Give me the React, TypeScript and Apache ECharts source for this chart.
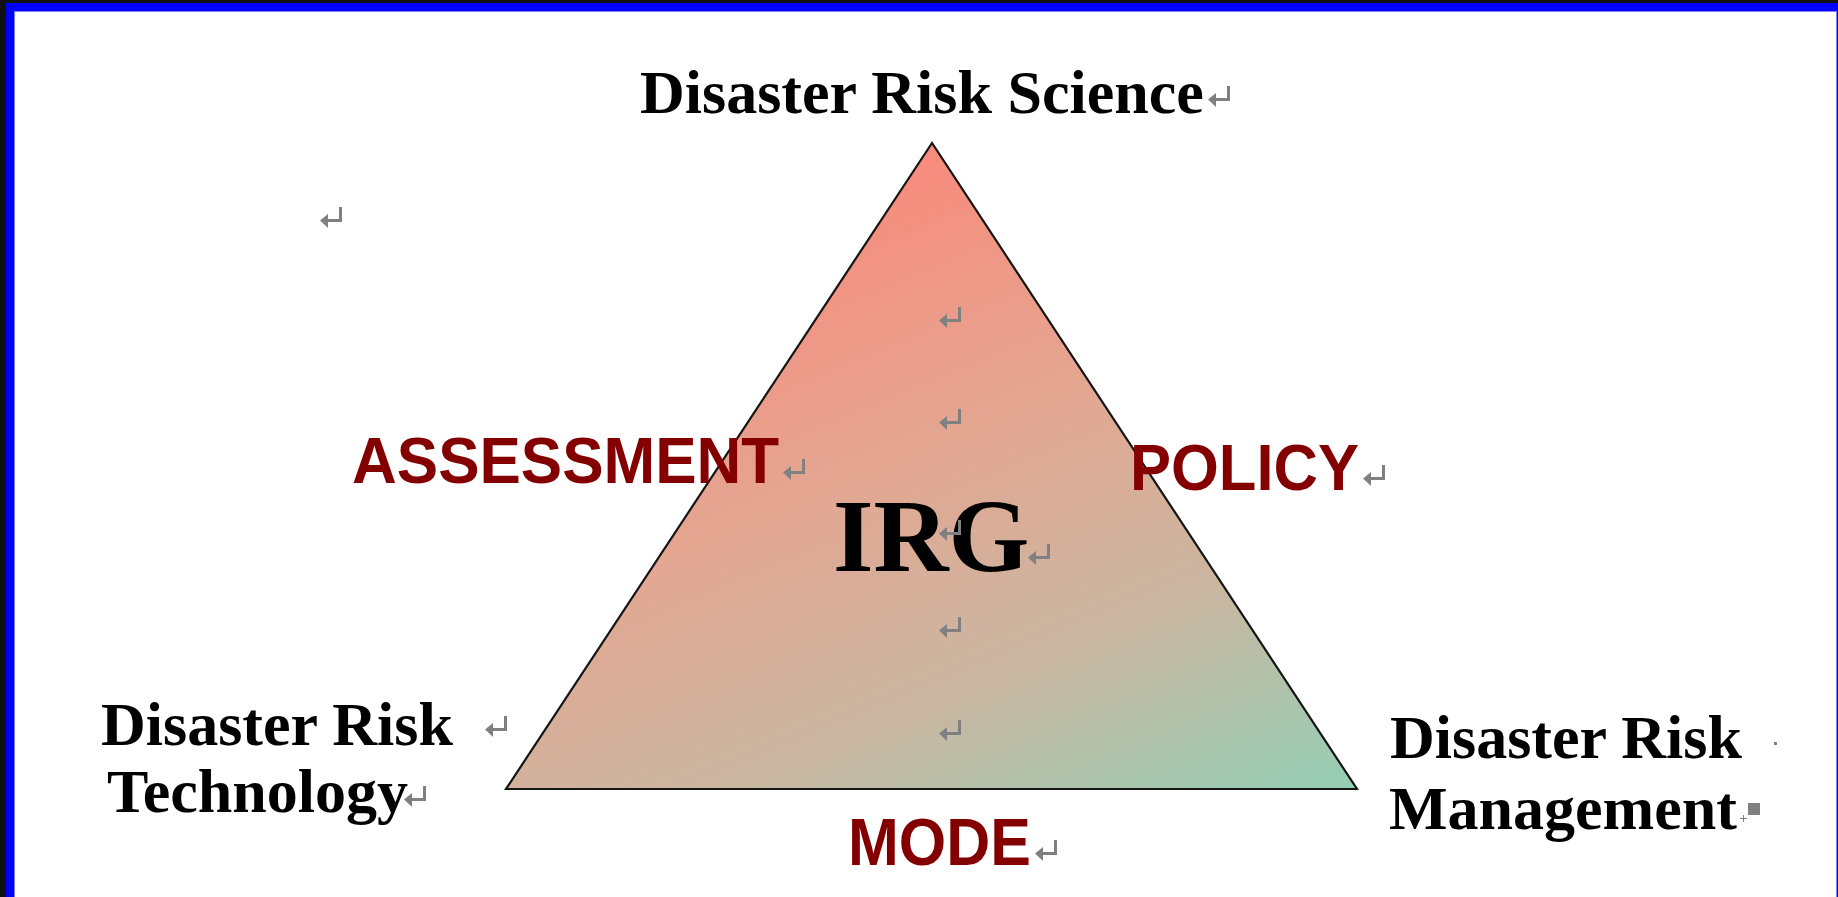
import React, { useEffect, useRef } from "react";
import * as echarts from "echarts";

const W = 1838;
const H = 897;

// Texts of the diagram
const topLabel = ["Disaster Risk Science"];
const leftLabel = ["Disaster Risk", "Technology"];
const rightLabel = ["Disaster Risk", "Management"];
const edgeLabels = ["ASSESSMENT", "POLICY", "MODE"];
const centerLabel = ["IRG"];

const SERIF = "'Liberation Serif', 'Times New Roman', serif";
const SANS = "'Liberation Sans', Arial, sans-serif";
const RED = "#840000";
const GRAY = "#808080";

function returnMark(x: number, y: number): any {
  return {
    type: "group",
    x,
    y,
    silent: true,
    children: [
      { type: "rect", shape: { x: 19, y: 0, width: 3, height: 15 }, style: { fill: GRAY } },
      { type: "rect", shape: { x: 5, y: 12, width: 17, height: 3 }, style: { fill: GRAY } },
      { type: "polygon", shape: { points: [[0, 13.5], [8, 7], [8, 21]] }, style: { fill: GRAY } },
    ],
  };
}

function txt(text: string, x: number, y: number, font: string, size: number, color: string, sy = 1): any {
  return {
    type: "text",
    x,
    y,
    scaleY: sy,
    silent: true,
    style: {
      text,
      fill: color,
      font: `bold ${size}px ${font}`,
      textAlign: "left",
      textVerticalAlign: "middle",
    },
  };
}

export default function App() {
  const ref = useRef<HTMLDivElement>(null);
  useEffect(() => {
    if (!ref.current) return;
    const chart = echarts.init(ref.current, undefined, { renderer: "svg", width: W, height: H });
    const elements: any[] = [
      // frame
      { type: "rect", shape: { x: 0, y: 0, width: W, height: 3 }, style: { fill: "#111111" } },
      { type: "rect", shape: { x: 0, y: 0, width: 6, height: H }, style: { fill: "#111111" } },
      { type: "rect", shape: { x: 6, y: 3, width: W - 6, height: 8 }, style: { fill: "#0000ff" } },
      { type: "rect", shape: { x: 6, y: 3, width: 8, height: H - 3 }, style: { fill: "#0000ff" } },
      { type: "rect", shape: { x: 14, y: 11, width: 1, height: H - 11 }, style: { fill: "#8080ff" } },
      { type: "rect", shape: { x: 14, y: 11, width: W - 16, height: 1 }, style: { fill: "#8080ff" } },
      { type: "rect", shape: { x: W - 2, y: 11, width: 1, height: H - 11 }, style: { fill: "#8080ff" } },
      { type: "rect", shape: { x: W - 1, y: 3, width: 1, height: H - 3 }, style: { fill: "#0000ff" } },
      // triangle
      {
        type: "polygon",
        shape: { points: [[932, 143], [506, 789], [1357, 789]] },
        style: {
          fill: {
            type: "linear",
            x: 0.45,
            y: 0,
            x2: 1,
            y2: 1,
            colorStops: [
              { offset: 0, color: "#FA897B" },
              { offset: 0.4, color: "#E2A893" },
              { offset: 0.7, color: "#C8B7A2" },
              { offset: 1, color: "#94CFB6" },
            ],
          },
          stroke: "#151515",
          lineWidth: 2.2,
        },
      },
      // labels
      txt(topLabel[0], 640, 92, SERIF, 62, "#000"),
      txt(leftLabel[0], 101, 724, SERIF, 62, "#000"),
      txt(leftLabel[1], 107, 791, SERIF, 62, "#000"),
      txt(rightLabel[0], 1390, 737, SERIF, 62, "#000"),
      txt(rightLabel[1], 1389, 808, SERIF, 62, "#000"),
      txt(edgeLabels[0], 352, 461, SANS, 62, RED, 1.04),
      txt(edgeLabels[1], 1130, 468, SANS, 61.5, RED, 1.04),
      txt(edgeLabels[2], 848, 842, SANS, 61, RED, 1.08),
      txt(centerLabel[0], 833, 535, SERIF, 104, "#000"),
      // return marks
      returnMark(1208, 86),
      returnMark(320, 207),
      returnMark(939, 307),
      returnMark(939, 409),
      returnMark(939, 520),
      returnMark(939, 617),
      returnMark(939, 720),
      returnMark(783, 459),
      returnMark(1028, 544),
      returnMark(1363, 465),
      returnMark(1035, 840),
      returnMark(485, 716),
      returnMark(404, 786),
      { type: "rect", shape: { x: 1774, y: 742, width: 3, height: 3 }, style: { fill: GRAY } },
      { type: "rect", shape: { x: 1748, y: 803, width: 12, height: 12 }, style: { fill: GRAY } },
      { type: "rect", shape: { x: 1740, y: 818, width: 7, height: 1 }, style: { fill: GRAY } },
      { type: "rect", shape: { x: 1743, y: 815, width: 1, height: 7 }, style: { fill: GRAY } },
    ];
    chart.setOption({
      animation: false,
      backgroundColor: "#ffffff",
      graphic: { elements },
    });
    return () => chart.dispose();
  }, []);
  return (
    <div
      ref={ref}
      style={{ position: "fixed", left: 0, top: 0, width: W, height: H }}
    />
  );
}
